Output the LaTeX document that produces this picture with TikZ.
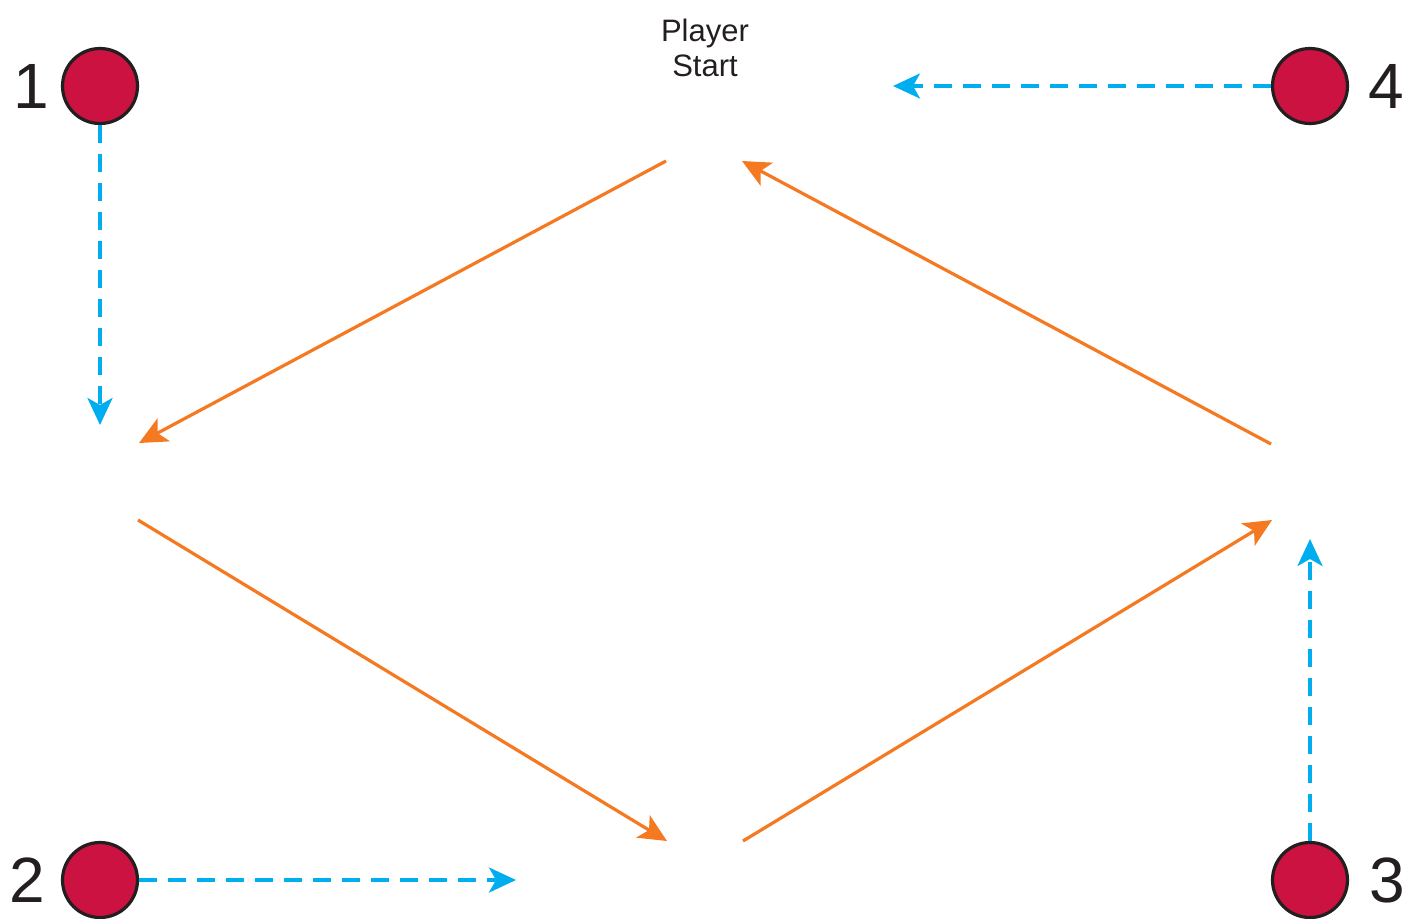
\documentclass[tikz,border=0pt]{standalone}
\usepackage{fontspec}
\setmainfont{Liberation Sans}
\usetikzlibrary{arrows.meta}
\definecolor{spot}{HTML}{CC1241}
\definecolor{path}{HTML}{F47920}
\definecolor{guide}{HTML}{00AEEF}
\definecolor{ink}{HTML}{231F20}
\begin{document}
\begin{tikzpicture}[x=0.5pt,y=-0.5pt,
  spotnode/.style={circle,draw=ink,line width=1.6pt,fill=spot,minimum size=37.5pt,inner sep=0pt},
  numlabel/.style={text=ink,font=\fontsize{32}{32}\selectfont,inner sep=0pt},
  guidearrow/.style={guide,line width=1.7pt,dash pattern=on 9pt off 5.5pt,
    -{Stealth[length=13.5pt,width=12.5pt,inset=3.5pt]}},
  patharrow/.style={path,line width=1.6pt,
    -{Stealth[length=14pt,width=13pt,inset=3.5pt]}}]
\useasboundingbox (0,0) rectangle (1404,918);

% spots
\node[spotnode] (s1) at (100,86) {};
\node[spotnode] (s2) at (100,880) {};
\node[spotnode] (s3) at (1310,880) {};
\node[spotnode] (s4) at (1310,86) {};

% spot numbers
\node[numlabel] (n1) at (31,86) {1};
\node[numlabel] (n2) at (27,880) {2};
\node[numlabel] (n3) at (1387,880) {3};
\node[numlabel] (n4) at (1386,86) {4};

% start caption
\node[text=ink,font=\fontsize{15.5}{17.5}\selectfont,align=center] (start) at (705,48) {Player\\Start};

% guide arrow ends
\coordinate (g1) at (100,425);
\coordinate (g2) at (516,880);
\coordinate (g3) at (1310,539);
\coordinate (g4) at (893,86);

\draw[guidearrow] (s1.south) -- (g1);
\draw[guidearrow] (s2.east) -- (g2);
\draw[guidearrow] (s3.north) -- (g3);
\draw[guidearrow] (s4.west) -- (g4);

% running path corners
\coordinate (a1) at (666,161);
\coordinate (a2) at (139,443);
\coordinate (b1) at (138,520);
\coordinate (b2) at (667,841);
\coordinate (c1) at (743,841);
\coordinate (c2) at (1272,520);
\coordinate (d1) at (1271,444);
\coordinate (d2) at (742,161);

\draw[patharrow] (a1) -- (a2);
\draw[patharrow] (b1) -- (b2);
\draw[patharrow] (c1) -- (c2);
\draw[patharrow] (d1) -- (d2);
\end{tikzpicture}
\end{document}
